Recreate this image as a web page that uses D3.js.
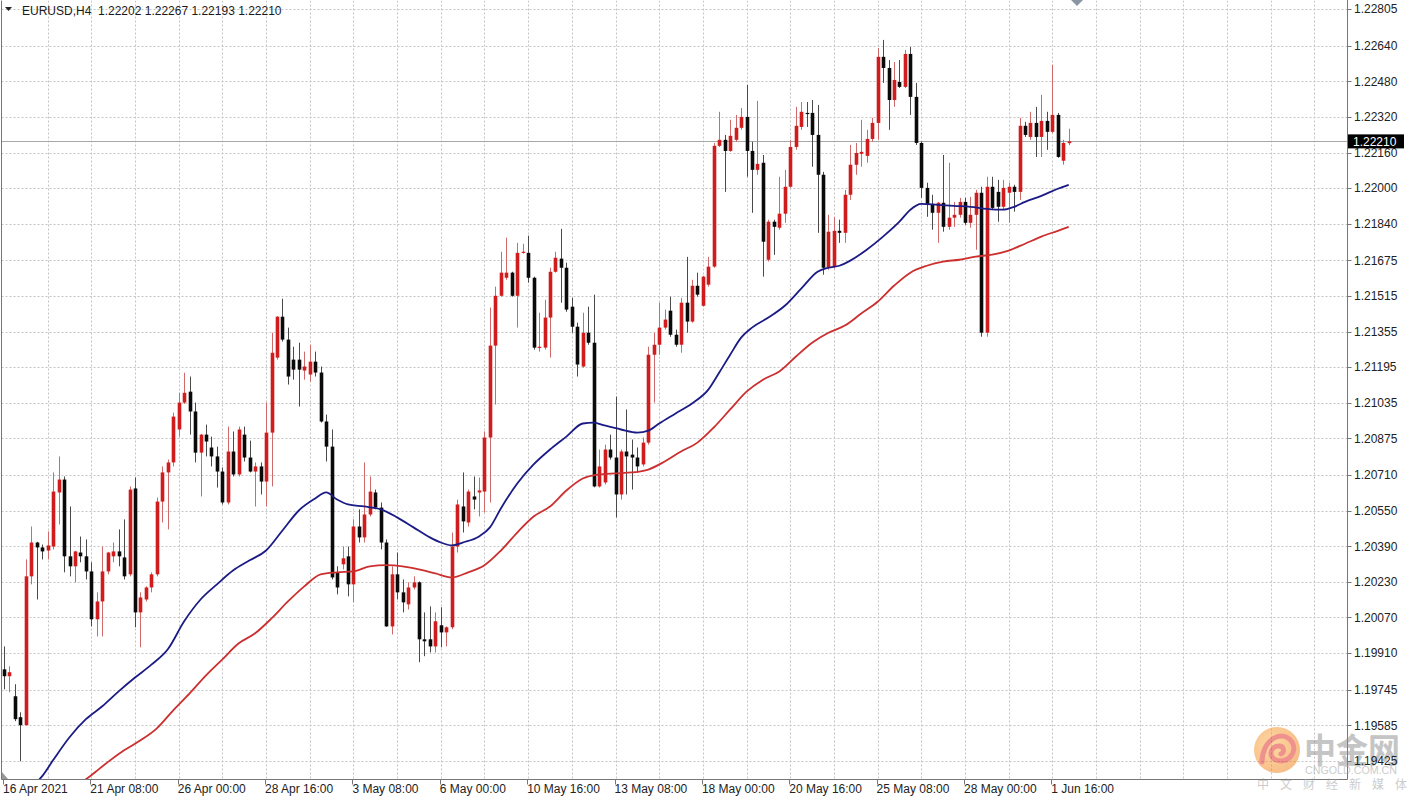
<!DOCTYPE html>
<html><head><meta charset="utf-8">
<script src="https://cdn.jsdelivr.net/npm/d3@7"></script>
<style>html,body{margin:0;padding:0;background:#fff;} svg{display:block;}</style>
</head><body><svg id="c" width="1412" height="800"></svg>
<script>
const symbolTitle = "EURUSD,H4";
const lastQuote = ["1.22202","1.22267","1.22193","1.22210"];
const currentPrice = 1.22210;

const opens = [1.19837,1.19806,1.19716,1.19622,1.19586,1.20255,1.20407,1.20385,1.20371,1.20389,
1.20632,1.20690,1.20345,1.20300,1.20362,1.20345,1.20277,1.20062,1.20142,1.20277,
1.20345,1.20367,1.20340,1.20264,1.20650,1.20093,1.20151,1.20205,1.20264,1.20591,
1.20722,1.20767,1.20915,1.21036,1.21085,1.20996,1.20811,1.20892,1.20834,1.20794,
1.20726,1.20587,1.20816,1.20713,1.20892,1.20789,1.20726,1.20749,1.20681,1.20901,
1.21238,1.21422,1.21319,1.21229,1.21229,1.21180,1.21162,1.21220,1.21171,1.20951,
1.20838,1.20273,1.20309,1.20345,1.20219,1.20479,1.20430,1.20533,1.20632,1.20564,
1.20407,1.20030,1.20264,1.20183,1.20129,1.20205,1.20228,1.19972,1.19972,1.19940,
1.20035,1.20003,1.20026,1.20389,1.20569,1.20497,1.20614,1.20632,1.20636,1.20879,
1.21292,1.21516,1.21597,1.21620,1.21516,1.21709,1.21709,1.21597,1.21283,1.21283,
1.21418,1.21624,1.21683,1.21642,1.21467,1.21377,1.21198,1.21350,1.21305,1.20659,
1.20677,1.20825,1.20789,1.20623,1.20816,1.20802,1.20789,1.20758,1.20856,1.21251,
1.21296,1.21373,1.21449,1.21341,1.21296,1.21485,1.21400,1.21561,1.21471,1.21566,
1.21647,1.22190,1.22217,1.22167,1.22217,1.22271,1.22320,1.22167,1.22082,1.22114,
1.21678,1.21849,1.21822,1.21885,1.22006,1.22185,1.22275,1.22338,1.22338,1.22239,
1.22060,1.21642,1.21647,1.21808,1.21799,1.21970,1.22105,1.22154,1.22145,1.22221,
1.22293,1.22590,1.22540,1.22396,1.22477,1.22455,1.22603,1.22410,1.22203,1.22001,
1.21925,1.21889,1.21934,1.21826,1.21867,1.21880,1.21938,1.21844,1.21880,1.21979,
1.21350,1.22006,1.21983,1.21916,1.21979,1.22006,1.21983,1.22280,1.22230,1.22293,
1.22230,1.22302,1.22253,1.22329,1.22123,1.22202];
const highs = [1.19940,1.19851,1.19770,1.19644,1.20331,1.20479,1.20410,1.20398,1.20457,1.20722,
1.20794,1.20704,1.20569,1.20370,1.20434,1.20421,1.20318,1.20183,1.20389,1.20365,
1.20407,1.20466,1.20511,1.20659,1.20699,1.20183,1.20210,1.20273,1.20609,1.20749,
1.20780,1.20991,1.21080,1.21170,1.21153,1.21036,1.20895,1.20937,1.20883,1.20838,
1.20744,1.20928,1.20906,1.20928,1.20928,1.20865,1.20767,1.20767,1.21036,1.21350,
1.21425,1.21503,1.21373,1.21287,1.21305,1.21265,1.21296,1.21265,1.21198,1.20982,
1.20915,1.20300,1.20389,1.20389,1.20511,1.20556,1.20767,1.20704,1.20645,1.20587,
1.20421,1.20300,1.20362,1.20241,1.20228,1.20255,1.20232,1.20093,1.20120,1.20093,
1.20116,1.20030,1.20452,1.20600,1.20722,1.20645,1.20704,1.20699,1.20906,1.21463,
1.21557,1.21714,1.21777,1.21624,1.21754,1.21750,1.21786,1.21602,1.21440,1.21498,
1.21642,1.21714,1.21817,1.21665,1.21507,1.21395,1.21440,1.21467,1.21521,1.20825,
1.20847,1.20892,1.21063,1.20825,1.21005,1.20870,1.20834,1.20879,1.21287,1.21350,
1.21485,1.21454,1.21512,1.21364,1.21507,1.21691,1.21588,1.21620,1.21606,1.21691,
1.22203,1.22343,1.22239,1.22307,1.22329,1.22360,1.22464,1.22208,1.22392,1.22149,
1.21858,1.21858,1.22051,1.22082,1.22217,1.22365,1.22387,1.22387,1.22396,1.22374,
1.22073,1.21880,1.21870,1.21858,1.21992,1.22194,1.22203,1.22307,1.22262,1.22316,
1.22630,1.22666,1.22576,1.22567,1.22576,1.22621,1.22634,1.22473,1.22210,1.22024,
1.21970,1.21938,1.22149,1.22114,1.21938,1.21956,1.21956,1.21961,1.21992,1.22006,
1.22051,1.22051,1.22037,1.22037,1.22024,1.22015,1.22316,1.22298,1.22343,1.22365,
1.22419,1.22343,1.22554,1.22338,1.22217,1.22267];
const lows = [1.19747,1.19734,1.19604,1.19424,1.19584,1.20219,1.20151,1.20331,1.20331,1.20376,
1.20488,1.20273,1.20255,1.20228,1.20318,1.20241,1.20030,1.19985,1.19985,1.20264,
1.20318,1.20300,1.20241,1.20255,1.20026,1.19936,1.20142,1.20183,1.20255,1.20497,
1.20466,1.20749,1.20883,1.21030,1.20892,1.20767,1.20614,1.20794,1.20749,1.20654,
1.20578,1.20578,1.20704,1.20704,1.20771,1.20722,1.20569,1.20623,1.20569,1.20659,
1.21229,1.21310,1.21117,1.21139,1.21018,1.21139,1.21130,1.21153,1.20946,1.20771,
1.20241,1.20174,1.20286,1.20165,1.20138,1.20407,1.20407,1.20524,1.20556,1.20376,
1.20028,1.19994,1.20151,1.20093,1.20106,1.20196,1.19869,1.19896,1.19913,1.19913,
1.19936,1.19940,1.20017,1.20362,1.20452,1.20479,1.20556,1.20524,1.20542,1.20587,
1.21027,1.21512,1.21588,1.21512,1.21373,1.21705,1.21575,1.21274,1.21265,1.21274,
1.21238,1.21620,1.21485,1.21444,1.21350,1.21153,1.21193,1.21296,1.20655,1.20654,
1.20668,1.20780,1.20520,1.20600,1.20623,1.20645,1.20722,1.20749,1.20847,1.21036,
1.21251,1.21364,1.21332,1.21287,1.21260,1.21350,1.21395,1.21512,1.21467,1.21557,
1.21642,1.22185,1.21983,1.22163,1.22208,1.22262,1.22051,1.21889,1.22060,1.21602,
1.21670,1.21700,1.21813,1.21844,1.22001,1.22172,1.22262,1.22275,1.22096,1.21799,
1.21611,1.21633,1.21638,1.21754,1.21754,1.21947,1.22060,1.22096,1.22114,1.22208,
1.22217,1.22473,1.22262,1.22365,1.22450,1.22450,1.22329,1.22194,1.21956,1.21871,
1.21813,1.21754,1.21804,1.21813,1.21826,1.21867,1.21835,1.21822,1.21723,1.21332,
1.21332,1.21903,1.21849,1.21903,1.21844,1.21894,1.21947,1.22230,1.22217,1.22140,
1.22140,1.22172,1.22248,1.22136,1.22105,1.22193];
const closes = [1.19806,1.19824,1.19613,1.19586,1.20255,1.20407,1.20385,1.20367,1.20394,1.20636,
1.20690,1.20345,1.20300,1.20367,1.20345,1.20277,1.20062,1.20142,1.20277,1.20362,
1.20367,1.20345,1.20255,1.20645,1.20093,1.20160,1.20205,1.20264,1.20591,1.20722,
1.20767,1.20973,1.21036,1.21080,1.20996,1.20811,1.20892,1.20861,1.20794,1.20726,
1.20587,1.20816,1.20713,1.20915,1.20789,1.20726,1.20749,1.20681,1.20901,1.21260,
1.21422,1.21319,1.21153,1.21184,1.21184,1.21198,1.21220,1.21171,1.20951,1.20838,
1.20250,1.20205,1.20336,1.20219,1.20479,1.20430,1.20533,1.20636,1.20564,1.20407,
1.20030,1.20264,1.20183,1.20138,1.20205,1.20228,1.19972,1.19963,1.19940,1.20053,
1.20003,1.20026,1.20389,1.20578,1.20502,1.20636,1.20600,1.20641,1.20879,1.21292,
1.21516,1.21620,1.21620,1.21516,1.21709,1.21714,1.21597,1.21283,1.21287,1.21418,
1.21624,1.21687,1.21642,1.21454,1.21377,1.21207,1.21350,1.21305,1.20659,1.20749,
1.20825,1.20789,1.20623,1.20816,1.20794,1.20789,1.20749,1.20856,1.21251,1.21296,
1.21373,1.21409,1.21341,1.21296,1.21485,1.21400,1.21561,1.21521,1.21602,1.21647,
1.22190,1.22217,1.22167,1.22235,1.22271,1.22320,1.22167,1.22082,1.22109,1.21759,
1.21849,1.21826,1.21885,1.22006,1.22185,1.22280,1.22343,1.22334,1.22239,1.22060,
1.21642,1.21804,1.21808,1.21799,1.21970,1.22105,1.22158,1.22163,1.22221,1.22293,
1.22590,1.22540,1.22396,1.22486,1.22455,1.22603,1.22410,1.22203,1.22001,1.21925,
1.21889,1.21934,1.21826,1.21867,1.21880,1.21938,1.21844,1.21880,1.21979,1.21350,
1.22006,1.21911,1.21916,1.22001,1.22006,1.21983,1.22280,1.22239,1.22293,1.22230,
1.22302,1.22253,1.22329,1.22140,1.22203,1.22210];

// Moving averages (bar index, value)
const maFastBars = [5,7,9,12,15,18,21,24,27,30,33,36,39,42,45,48,51,54,57,59,61,63,66,69,72,75,78,80,82,84,87,89,91,94,97,100,103,106,108,110,113,116,118,120,123,126,129,131,133,135,137,140,143,146,149,151,153,155,158,161,164,166,168,171,174,177,180,183,185,187,190,193,195];
const maFastVals = [1.19307,1.19357,1.19429,1.19532,1.19613,1.19671,1.19738,1.19800,1.19858,1.19927,1.20053,1.20151,1.20219,1.20282,1.20327,1.20371,1.20461,1.20551,1.20605,1.20632,1.20600,1.20578,1.20569,1.20556,1.20520,1.20475,1.20430,1.20407,1.20394,1.20407,1.20434,1.20475,1.20560,1.20672,1.20758,1.20825,1.20883,1.20942,1.20946,1.20933,1.20915,1.20901,1.20910,1.20942,1.20987,1.21032,1.21094,1.21171,1.21251,1.21328,1.21373,1.21418,1.21471,1.21548,1.21624,1.21642,1.21651,1.21674,1.21723,1.21782,1.21849,1.21903,1.21929,1.21925,1.21920,1.21916,1.21907,1.21903,1.21916,1.21938,1.21965,1.21997,1.22015];
const maSlowBars = [14,16,19,22,25,28,31,34,37,40,43,46,49,52,55,58,61,64,67,70,73,76,79,82,85,88,91,94,97,100,103,106,109,112,115,118,121,124,127,130,133,136,139,142,145,148,151,154,157,160,163,166,169,172,175,178,181,184,187,190,193,195];
const maSlowVals = [1.19325,1.19361,1.19420,1.19473,1.19518,1.19572,1.19653,1.19729,1.19810,1.19882,1.19954,1.19999,1.20066,1.20142,1.20210,1.20264,1.20273,1.20277,1.20300,1.20305,1.20300,1.20286,1.20268,1.20250,1.20273,1.20305,1.20371,1.20452,1.20524,1.20569,1.20641,1.20695,1.20713,1.20718,1.20722,1.20735,1.20771,1.20816,1.20856,1.20924,1.21005,1.21085,1.21139,1.21176,1.21242,1.21305,1.21350,1.21382,1.21436,1.21489,1.21561,1.21620,1.21651,1.21670,1.21678,1.21692,1.21701,1.21719,1.21750,1.21782,1.21808,1.21826];

const priceTicks = [1.22805,1.22640,1.22480,1.22320,1.22160,1.22000,1.21840,1.21675,1.21515,1.21355,1.21195,1.21035,1.20875,1.20710,1.20550,1.20390,1.20230,1.20070,1.19910,1.19745,1.19585,1.19425];
const dateLabels = ["16 Apr 2021","21 Apr 08:00","26 Apr 00:00","28 Apr 16:00","3 May 08:00","6 May 00:00","10 May 16:00","13 May 08:00","18 May 00:00","20 May 16:00","25 May 08:00","28 May 00:00","1 Jun 16:00"];
const dateLabelBars = [0,16,32,48,64,80,96,112,128,144,160,176,192];
const gridBars = [8,16,24,32,40,48,56,64,72,80,88,96,104,112,120,128,136,144,152,160,168,176,184,192,200,208,216,224,232,240,248];

const FONT = "'Liberation Sans', Arial, sans-serif";
const svg = d3.select("#c");
const L = 1.5, R = 1347.5, T = 0.5, B = 779.5;
const x = d3.scaleLinear().domain([0, 195]).range([4, 4 + 195 * 5.46]);
const y = d3.scaleLinear().domain([1.19425, 1.22805]).range([761, 9]);

svg.append("rect").attr("width", 1412).attr("height", 800).attr("fill", "#fff");

const defs = svg.append("defs");
defs.append("clipPath").attr("id", "plotclip").append("rect")
  .attr("x", L).attr("y", T).attr("width", R - L).attr("height", B - T);

// grid
const grid = svg.append("g").attr("clip-path", "url(#plotclip)");
grid.selectAll("line.h").data(priceTicks).join("line")
  .attr("x1", L).attr("x2", R)
  .attr("y1", d => Math.round(y(d)) + 0.5).attr("y2", d => Math.round(y(d)) + 0.5)
  .attr("stroke", "#c4c4c4").attr("stroke-width", 1).attr("stroke-dasharray", "2,2");
grid.selectAll("line.v").data(gridBars).join("line")
  .attr("x1", d => Math.round(x(d)) + 0.5).attr("x2", d => Math.round(x(d)) + 0.5)
  .attr("y1", T).attr("y2", B)
  .attr("stroke", "#c4c4c4").attr("stroke-width", 1).attr("stroke-dasharray", "2,2");

// current price line
svg.append("line").attr("x1", L).attr("x2", R)
  .attr("y1", Math.round(y(currentPrice)) + 0.5).attr("y2", Math.round(y(currentPrice)) + 0.5)
  .attr("stroke", "#a8a8a8").attr("stroke-width", 1);

const plotG = svg.append("g").attr("clip-path", "url(#plotclip)");

// candles
const bars = opens.map((o, i) => ({ i, o, h: highs[i], l: lows[i], c: closes[i] }));
const up = d => d.c >= d.o;
plotG.selectAll("line.wick").data(bars).join("line")
  .attr("x1", d => Math.round(x(d.i)) + 0.5).attr("x2", d => Math.round(x(d.i)) + 0.5)
  .attr("y1", d => y(d.h)).attr("y2", d => y(d.l))
  .attr("stroke", d => up(d) ? "#cf6a6a" : "#4a4a4a").attr("stroke-width", 1);
plotG.selectAll("rect.body").data(bars).join("rect")
  .attr("x", d => Math.round(x(d.i)) + 0.5 - 1.8)
  .attr("width", 3.6)
  .attr("y", d => y(Math.max(d.o, d.c)))
  .attr("height", d => Math.max(1.2, Math.abs(y(d.o) - y(d.c))))
  .attr("fill", d => up(d) ? "#d01c1c" : "#0a0a0a");

// moving averages
const line = d3.line().x(d => x(d[0])).y(d => y(d[1])).curve(d3.curveMonotoneX);
plotG.append("path").datum(maSlowBars.map((b, k) => [b, maSlowVals[k]]))
  .attr("d", line).attr("fill", "none").attr("stroke", "#cc2f2f").attr("stroke-width", 1.8);
plotG.append("path").datum(maFastBars.map((b, k) => [b, maFastVals[k]]))
  .attr("d", line).attr("fill", "none").attr("stroke", "#1b1b86").attr("stroke-width", 1.8);

// frame
svg.append("line").attr("x1", L).attr("x2", L).attr("y1", T).attr("y2", B).attr("stroke", "#777");
svg.append("line").attr("x1", R).attr("x2", R).attr("y1", 0).attr("y2", B).attr("stroke", "#777");
svg.append("line").attr("x1", L).attr("x2", R).attr("y1", B).attr("y2", B).attr("stroke", "#777");

// watermark (drawn under the axis labels)
const wm = svg.append("g").attr("opacity", 0.5);
const grad = defs.append("radialGradient").attr("id", "lg").attr("cx", "40%").attr("cy", "40%").attr("r", "65%");
grad.append("stop").attr("offset", "0%").attr("stop-color", "#ffb347");
grad.append("stop").attr("offset", "100%").attr("stop-color", "#f07a10");
wm.append("circle").attr("cx", 1277).attr("cy", 750).attr("r", 23).attr("fill", "url(#lg)");
wm.append("path").attr("d", "M1262,762 C1262,740 1282,728 1292,742 C1298,752 1288,764 1276,760 C1268,757 1270,746 1279,746 C1284,746 1285,752 1281,754")
  .attr("fill", "none").attr("stroke", "#e0281e").attr("stroke-width", 5).attr("stroke-linecap", "round");
wm.append("text").attr("x", 1304).attr("y", 763)
  .attr("font-family", "'Noto Sans CJK SC', sans-serif").attr("font-size", 34).attr("font-weight", 700)
  .attr("fill", "#8c8c8c").attr("textLength", 96).attr("lengthAdjust", "spacingAndGlyphs").text("中金网");
wm.append("text").attr("x", 1305).attr("y", 774)
  .attr("font-family", FONT).attr("font-size", 10).attr("fill", "#9a9a9a")
  .attr("textLength", 92).attr("lengthAdjust", "spacingAndGlyphs")
  .text("CNGOLD.COM.CN");
wm.append("text").attr("x", 1257).attr("y", 789)
  .attr("font-family", "'Noto Sans CJK SC', sans-serif").attr("font-size", 12).attr("fill", "#9a9a9a")
  .attr("textLength", 150).text("中文财经新媒体");

// right price axis
const yAxisG = svg.append("g");
yAxisG.selectAll("line").data(priceTicks).join("line")
  .attr("x1", R).attr("x2", R + 4)
  .attr("y1", d => Math.round(y(d)) + 0.5).attr("y2", d => Math.round(y(d)) + 0.5)
  .attr("stroke", "#777");
yAxisG.selectAll("text").data(priceTicks).join("text")
  .attr("x", 1354).attr("y", d => y(d)).attr("dy", "0.35em")
  .attr("font-family", FONT).attr("font-size", 12).attr("fill", "#222")
  .text(d => d.toFixed(5));

// current price tag
const cy = y(currentPrice);
svg.append("rect").attr("x", 1348).attr("y", cy - 7).attr("width", 56).attr("height", 14).attr("fill", "#000");
svg.append("text").attr("x", 1353).attr("y", cy).attr("dy", "0.36em")
  .attr("font-family", FONT).attr("font-size", 12).attr("fill", "#fff").text(currentPrice.toFixed(5));

// bottom time axis
const xAxisG = svg.append("g");
xAxisG.selectAll("line").data(dateLabelBars).join("line")
  .attr("x1", d => Math.round(x(d)) - 0.5).attr("x2", d => Math.round(x(d)) - 0.5)
  .attr("y1", B).attr("y2", B + 5).attr("stroke", "#777");
xAxisG.selectAll("text").data(dateLabels).join("text")
  .attr("x", (d, k) => x(dateLabelBars[k]) - 1).attr("y", 793)
  .attr("font-family", FONT).attr("font-size", 12).attr("fill", "#222")
  .text(d => d);

// header
svg.append("path").attr("d", "M5,7 L12,7 L8.5,11 Z").attr("fill", "#222");
svg.append("text").attr("x", 22).attr("y", 15)
  .attr("font-family", FONT).attr("font-size", 12).attr("fill", "#1a1a1a")
  .attr("xml:space", "preserve")
  .text(symbolTitle + "  " + lastQuote.join(" "));

// chart shift marker and corner marker
svg.append("path").attr("d", "M1071,0 L1083,0 L1077,6 Z").attr("fill", "#8a96a4");
svg.append("path").attr("d", "M2,779 L2,772 L8,779 Z").attr("fill", "#999");
</script>
</body></html>
